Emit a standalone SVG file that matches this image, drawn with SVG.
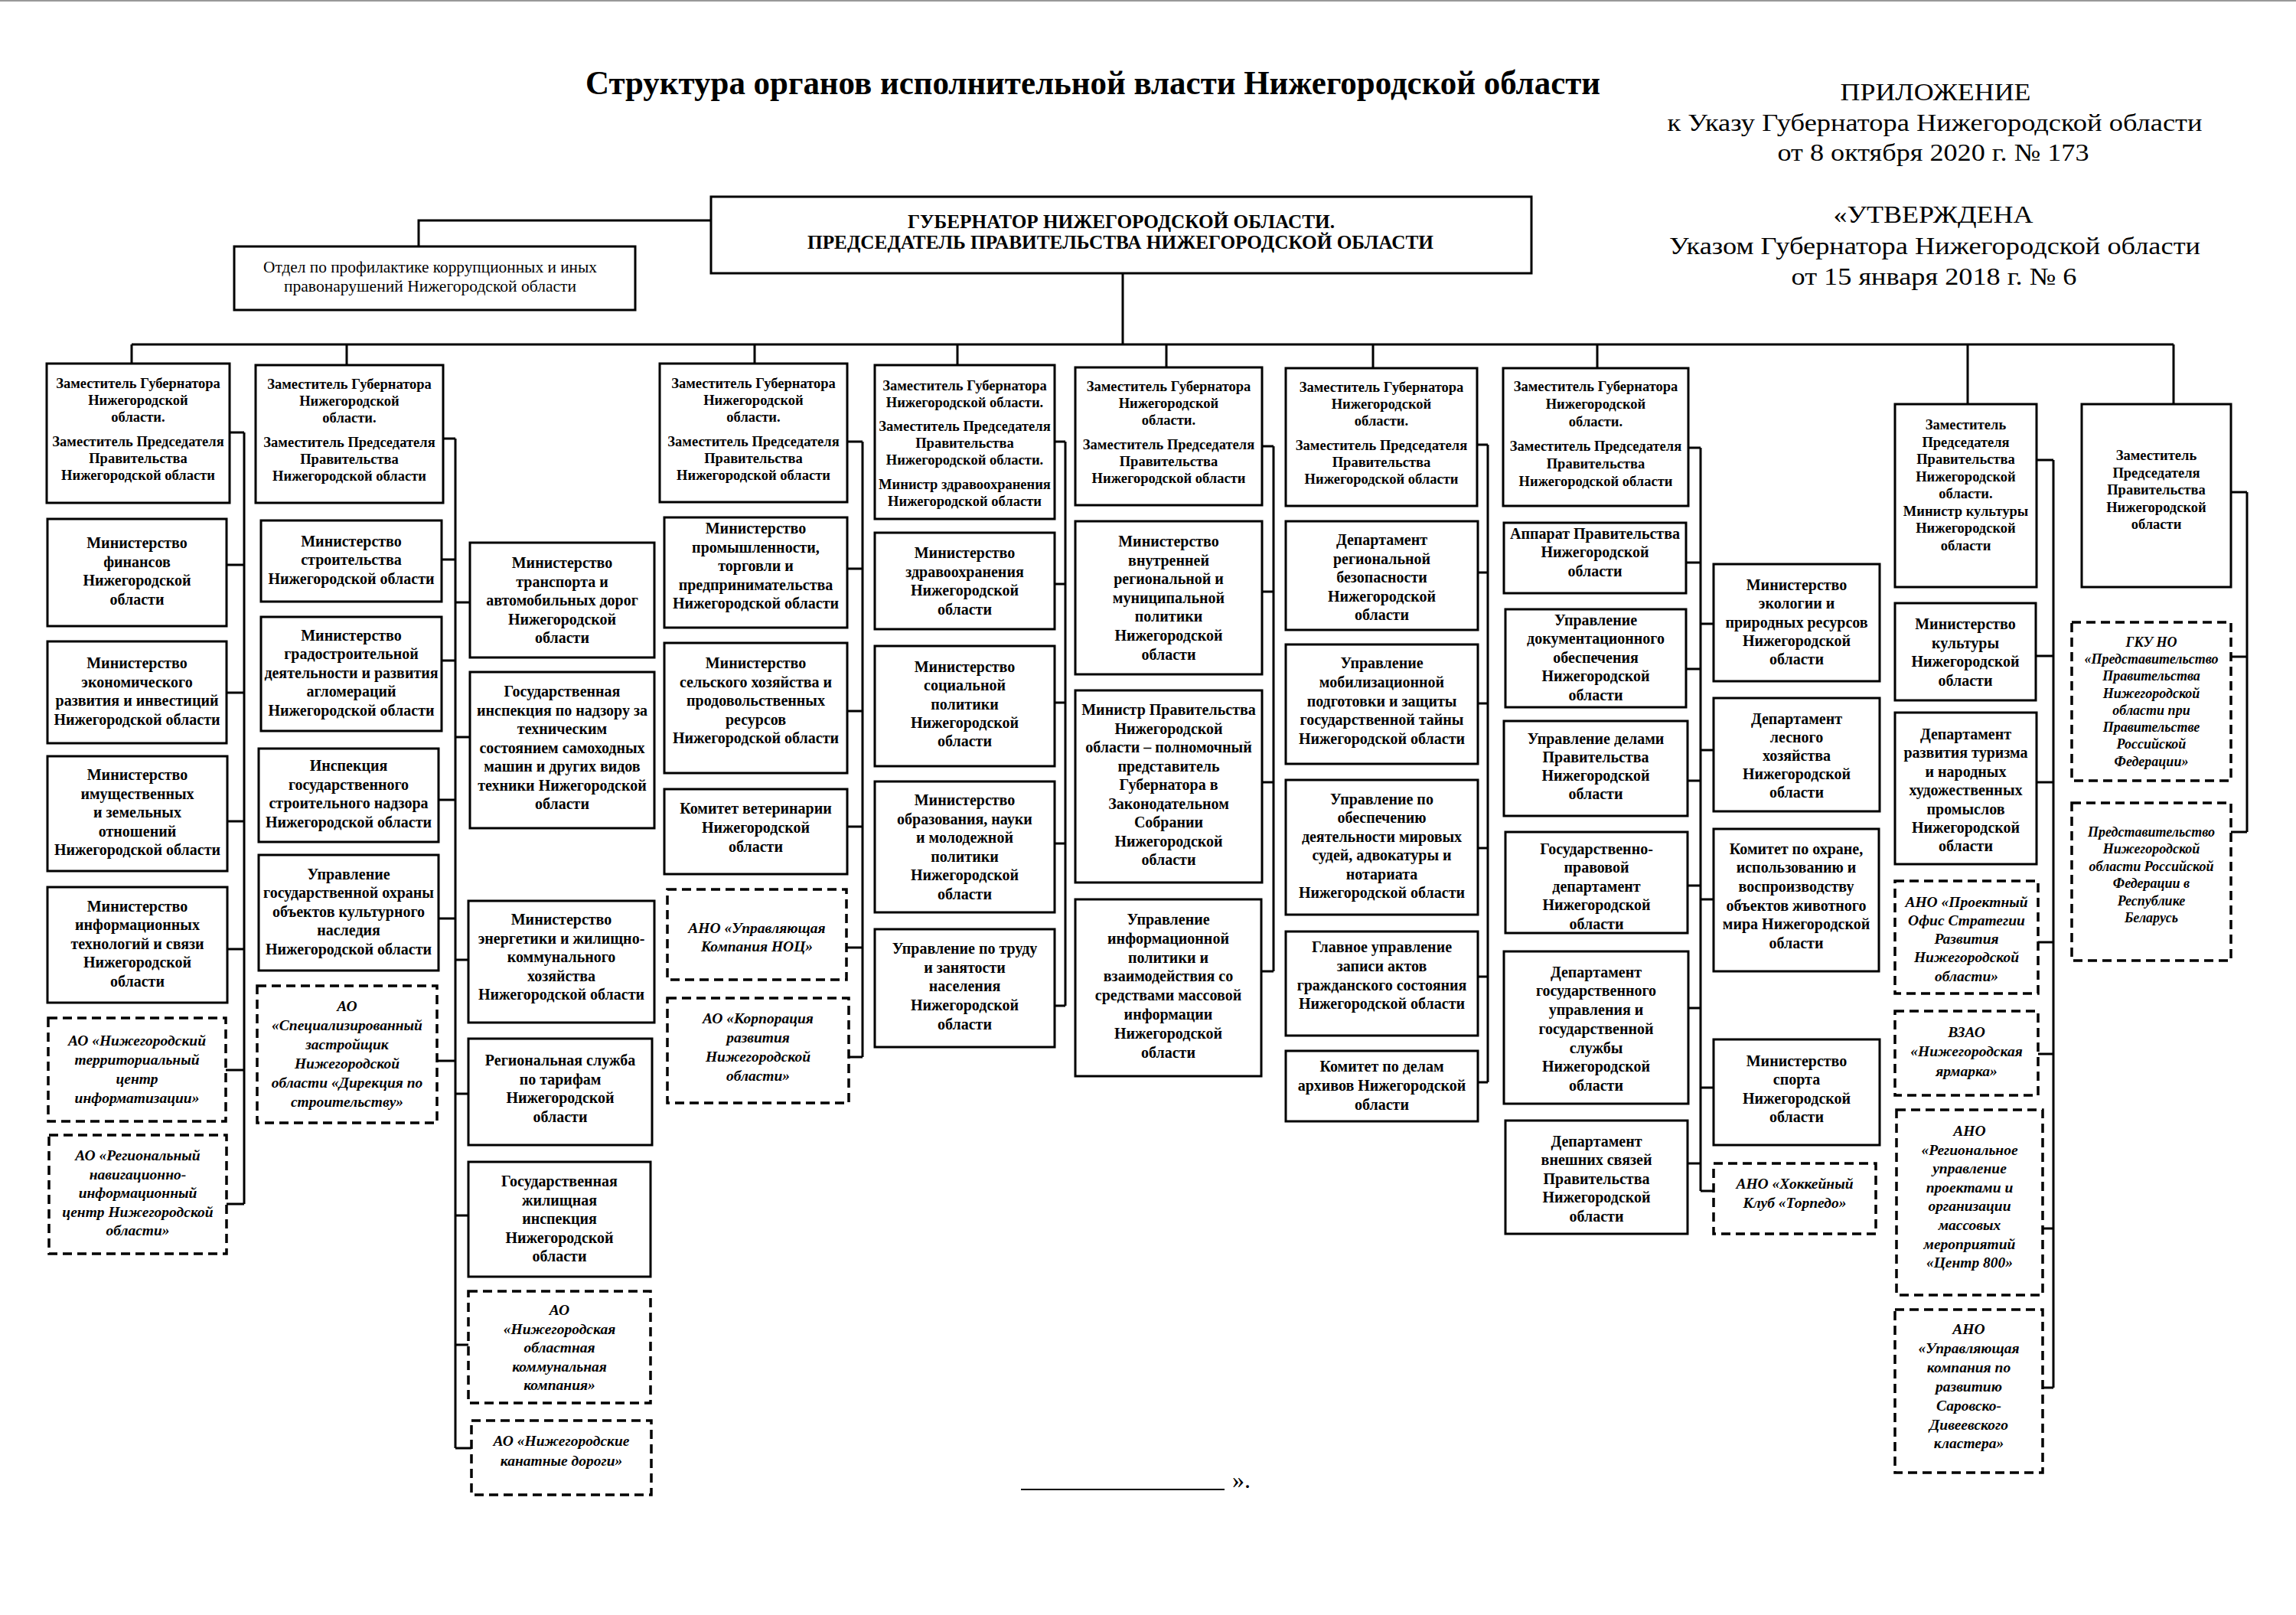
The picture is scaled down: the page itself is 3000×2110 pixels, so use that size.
<svg xmlns="http://www.w3.org/2000/svg" width="3000" height="2110" viewBox="0 0 3000 2110">
<style>
.b{fill:#fff;stroke:#000;stroke-width:3}
.d{fill:#fff;stroke:#000;stroke-width:3.5;stroke-dasharray:12 7}
.c path{fill:none;stroke:#000;stroke-width:3}
text{font-family:"Liberation Serif","Times New Roman",serif;fill:#000;text-anchor:middle}
.t{font-size:20px;font-weight:bold}
.dp{font-size:18.5px;font-weight:bold}
.i{font-size:19.5px;font-weight:bold;font-style:italic}
.i2{font-size:18px;font-weight:bold;font-style:italic}
.h{font-size:32px}
</style>
<rect width="3000" height="2110" fill="#fff"/>
<line x1="0" y1="1" x2="3000" y2="1" stroke="#999" stroke-width="2"/>

<text x="1428" y="123" font-size="44" font-weight="bold" textLength="1326" lengthAdjust="spacingAndGlyphs">Структура органов исполнительной власти Нижегородской области</text>
<text class="h" x="2529" y="131" textLength="249" lengthAdjust="spacingAndGlyphs">ПРИЛОЖЕНИЕ</text>
<text class="h" x="2528" y="171" textLength="699" lengthAdjust="spacingAndGlyphs">к Указу Губернатора Нижегородской области</text>
<text class="h" x="2526" y="210" textLength="407" lengthAdjust="spacingAndGlyphs">от 8 октября 2020 г. № 173</text>
<text class="h" x="2526" y="291" textLength="261" lengthAdjust="spacingAndGlyphs">«УТВЕРЖДЕНА</text>
<text class="h" x="2528" y="332" textLength="694" lengthAdjust="spacingAndGlyphs">Указом Губернатора Нижегородской области</text>
<text class="h" x="2527" y="372" textLength="373" lengthAdjust="spacingAndGlyphs">от 15 января 2018 г. № 6</text>

<g class="c" id="connectors">
<path d="M929,288 H547 V322 M1467,357 V450 M172,450 H2840 M172,450 V475 M453,450 V477 M986,450 V475 M1251,450 V477 M1524,450 V480 M1794,450 V481 M2087,450 V481 M2571,450 V528 M2840,450 V528"/>
<path d="M319,565 V1573 M300,565 H319 M296,738 H319 M296,905 H319 M297,1073 H319 M297,1240 H319 M295,1398 H319 M296,1573 H319"/>
<path d="M595,573 V1892 M579,573 H595 M577,731 H595 M577,863 H595 M573,1045 H595 M573,1200 H595 M571,1386 H595 M595,787 H614 M595,963 H614 M595,1254 H612 M595,1429 H612 M595,1588 H612 M595,1757 H612 M595,1892 H616"/>
<path d="M1127,577 V1381 M1107,577 H1127 M1107,743 H1127 M1107,929 H1127 M1107,1080 H1127 M1106,1238 H1127 M1109,1381 H1127"/>
<path d="M1392,577 V1314 M1378,577 H1392 M1378,763 H1392 M1378,918 H1392 M1378,1102 H1392 M1378,1314 H1392"/>
<path d="M1664,583 V1269 M1649,583 H1664 M1649,773 H1664 M1649,1022 H1664 M1648,1269 H1664"/>
<path d="M1944,581 V1414 M1930,581 H1944 M1931,748 H1944 M1931,919 H1944 M1931,1108 H1944 M1931,1276 H1944 M1931,1414 H1944"/>
<path d="M2222,585 V1556 M2206,585 H2222 M2203,735 H2222 M2203,874 H2222 M2205,1020 H2222 M2205,1157 H2222 M2206,1317 H2222 M2205,1520 H2222 M2222,815 H2239 M2222,980 H2239 M2222,1175 H2239 M2222,1421 H2239 M2222,1556 H2239"/>
<path d="M2683,601 V1813 M2661,601 H2683 M2660,857 H2683 M2661,1022 H2683 M2663,1231 H2683 M2663,1377 H2683 M2669,1605 H2683 M2669,1813 H2683"/>
<path d="M2936,643 V1087 M2915,643 H2936 M2915,858 H2936 M2915,1087 H2936"/>
</g>

<g id="governor"><rect class="b" x="929" y="257" width="1072" height="100"/>
<text x="1465" y="298" font-size="25" font-weight="bold" textLength="558" lengthAdjust="spacingAndGlyphs">ГУБЕРНАТОР НИЖЕГОРОДСКОЙ ОБЛАСТИ.</text>
<text x="1464" y="325" font-size="25" font-weight="bold" textLength="818" lengthAdjust="spacingAndGlyphs">ПРЕДСЕДАТЕЛЬ ПРАВИТЕЛЬСТВА НИЖЕГОРОДСКОЙ ОБЛАСТИ</text></g>
<g id="otdel"><rect class="b" x="306" y="322" width="524" height="83"/>
<text x="562" y="356" font-size="21" textLength="436" lengthAdjust="spacingAndGlyphs">Отдел по профилактике коррупционных и иных</text>
<text x="562" y="381" font-size="21" textLength="382" lengthAdjust="spacingAndGlyphs">правонарушений Нижегородской области</text></g>

<!-- Column 1 -->
<g id="dep1"><rect class="b" x="61" y="475" width="239" height="182"/><text class="dp" x="180.5" y="507"><tspan x="180.5">Заместитель Губернатора</tspan><tspan x="180.5" dy="22">Нижегородской</tspan><tspan x="180.5" dy="22">области.</tspan><tspan x="180.5" dy="32">Заместитель Председателя</tspan><tspan x="180.5" dy="22">Правительства</tspan><tspan x="180.5" dy="22">Нижегородской области</tspan></text></g>
<g id="minfin"><rect class="b" x="62" y="678" width="234" height="140"/><text class="t" x="179" y="716"><tspan x="179">Министерство</tspan><tspan x="179" dy="24.5">финансов</tspan><tspan x="179" dy="24.5">Нижегородской</tspan><tspan x="179" dy="24.5">области</tspan></text></g>
<g id="minecon"><rect class="b" x="62" y="838" width="234" height="133"/><text class="t" x="179" y="873"><tspan x="179">Министерство</tspan><tspan x="179" dy="24.5">экономического</tspan><tspan x="179" dy="24.5">развития и инвестиций</tspan><tspan x="179" dy="24.5">Нижегородской области</tspan></text></g>
<g id="minimush"><rect class="b" x="62" y="988" width="235" height="150"/><text class="t" x="179.5" y="1019"><tspan x="179.5">Министерство</tspan><tspan x="179.5" dy="24.5">имущественных</tspan><tspan x="179.5" dy="24.5">и земельных</tspan><tspan x="179.5" dy="24.5">отношений</tspan><tspan x="179.5" dy="24.5">Нижегородской области</tspan></text></g>
<g id="mininform"><rect class="b" x="62" y="1159" width="235" height="151"/><text class="t" x="179.5" y="1190.5"><tspan x="179.5">Министерство</tspan><tspan x="179.5" dy="24.5">информационных</tspan><tspan x="179.5" dy="24.5">технологий и связи</tspan><tspan x="179.5" dy="24.5">Нижегородской</tspan><tspan x="179.5" dy="24.5">области</tspan></text></g>
<g id="ao-ntci"><rect class="d" x="63" y="1330" width="232" height="135"/><text class="i" x="179" y="1366"><tspan x="179">АО «Нижегородский</tspan><tspan x="179" dy="25">территориальный</tspan><tspan x="179" dy="25">центр</tspan><tspan x="179" dy="25">информатизации»</tspan></text></g>
<g id="ao-rnic"><rect class="d" x="64" y="1483" width="232" height="155"/><text class="i" x="180" y="1516"><tspan x="180">АО «Региональный</tspan><tspan x="180" dy="24.5">навигационно-</tspan><tspan x="180" dy="24.5">информационный</tspan><tspan x="180" dy="24.5">центр Нижегородской</tspan><tspan x="180" dy="24.5">области»</tspan></text></g>

<!-- Column 2 -->
<g id="dep2"><rect class="b" x="334" y="477" width="245" height="180"/><text class="dp" x="456.5" y="508"><tspan x="456.5">Заместитель Губернатора</tspan><tspan x="456.5" dy="22">Нижегородской</tspan><tspan x="456.5" dy="22">области.</tspan><tspan x="456.5" dy="32">Заместитель Председателя</tspan><tspan x="456.5" dy="22">Правительства</tspan><tspan x="456.5" dy="22">Нижегородской области</tspan></text></g>
<g id="minstroy"><rect class="b" x="341" y="680" width="236" height="106"/><text class="t" x="459" y="713.5"><tspan x="459">Министерство</tspan><tspan x="459" dy="24.5">строительства</tspan><tspan x="459" dy="24.5">Нижегородской области</tspan></text></g>
<g id="mingrad"><rect class="b" x="341" y="806" width="236" height="149"/><text class="t" x="459" y="836.5"><tspan x="459">Министерство</tspan><tspan x="459" dy="24.5">градостроительной</tspan><tspan x="459" dy="24.5">деятельности и развития</tspan><tspan x="459" dy="24.5">агломераций</tspan><tspan x="459" dy="24.5">Нижегородской области</tspan></text></g>
<g id="insp-stroy"><rect class="b" x="338" y="978" width="235" height="122"/><text class="t" x="455.5" y="1007"><tspan x="455.5">Инспекция</tspan><tspan x="455.5" dy="24.5">государственного</tspan><tspan x="455.5" dy="24.5">строительного надзора</tspan><tspan x="455.5" dy="24.5">Нижегородской области</tspan></text></g>
<g id="upr-okn"><rect class="b" x="338" y="1117" width="235" height="151"/><text class="t" x="455.5" y="1148.5"><tspan x="455.5">Управление</tspan><tspan x="455.5" dy="24.5">государственной охраны</tspan><tspan x="455.5" dy="24.5">объектов культурного</tspan><tspan x="455.5" dy="24.5">наследия</tspan><tspan x="455.5" dy="24.5">Нижегородской области</tspan></text></g>
<g id="ao-spec"><rect class="d" x="336" y="1288" width="235" height="179"/><text class="i" x="453.5" y="1321"><tspan x="453.5">АО</tspan><tspan x="453.5" dy="25">«Специализированный</tspan><tspan x="453.5" dy="25">застройщик</tspan><tspan x="453.5" dy="25">Нижегородской</tspan><tspan x="453.5" dy="25">области «Дирекция по</tspan><tspan x="453.5" dy="25">строительству»</tspan></text></g>

<!-- Column 2b -->
<g id="mintrans"><rect class="b" x="614" y="709" width="241" height="150"/><text class="t" x="734.5" y="742"><tspan x="734.5">Министерство</tspan><tspan x="734.5" dy="24.5">транспорта и</tspan><tspan x="734.5" dy="24.5">автомобильных дорог</tspan><tspan x="734.5" dy="24.5">Нижегородской</tspan><tspan x="734.5" dy="24.5">области</tspan></text></g>
<g id="gostekhnadzor"><rect class="b" x="614" y="878" width="241" height="204"/><text class="t" x="734.5" y="910"><tspan x="734.5">Государственная</tspan><tspan x="734.5" dy="24.5">инспекция по надзору за</tspan><tspan x="734.5" dy="24.5">техническим</tspan><tspan x="734.5" dy="24.5">состоянием самоходных</tspan><tspan x="734.5" dy="24.5">машин и других видов</tspan><tspan x="734.5" dy="24.5">техники Нижегородской</tspan><tspan x="734.5" dy="24.5">области</tspan></text></g>
<g id="minenerg"><rect class="b" x="612" y="1177" width="243" height="159"/><text class="t" x="733.5" y="1208"><tspan x="733.5">Министерство</tspan><tspan x="733.5" dy="24.5">энергетики и жилищно-</tspan><tspan x="733.5" dy="24.5">коммунального</tspan><tspan x="733.5" dy="24.5">хозяйства</tspan><tspan x="733.5" dy="24.5">Нижегородской области</tspan></text></g>
<g id="rst"><rect class="b" x="612" y="1357" width="240" height="139"/><text class="t" x="732" y="1392"><tspan x="732">Региональная служба</tspan><tspan x="732" dy="24.5">по тарифам</tspan><tspan x="732" dy="24.5">Нижегородской</tspan><tspan x="732" dy="24.5">области</tspan></text></g>
<g id="gzhi"><rect class="b" x="612" y="1518" width="238" height="150"/><text class="t" x="731" y="1550"><tspan x="731">Государственная</tspan><tspan x="731" dy="24.5">жилищная</tspan><tspan x="731" dy="24.5">инспекция</tspan><tspan x="731" dy="24.5">Нижегородской</tspan><tspan x="731" dy="24.5">области</tspan></text></g>
<g id="ao-nokk"><rect class="d" x="612" y="1687" width="238" height="146"/><text class="i" x="731" y="1718"><tspan x="731">АО</tspan><tspan x="731" dy="24.5">«Нижегородская</tspan><tspan x="731" dy="24.5">областная</tspan><tspan x="731" dy="24.5">коммунальная</tspan><tspan x="731" dy="24.5">компания»</tspan></text></g>
<g id="ao-kanat"><rect class="d" x="616" y="1856" width="235" height="97"/><text class="i" x="733.5" y="1889"><tspan x="733.5">АО «Нижегородские</tspan><tspan x="733.5" dy="26">канатные дороги»</tspan></text></g>

<!-- Column 3 -->
<g id="dep3"><rect class="b" x="862" y="475" width="245" height="181"/><text class="dp" x="984.5" y="507"><tspan x="984.5">Заместитель Губернатора</tspan><tspan x="984.5" dy="22">Нижегородской</tspan><tspan x="984.5" dy="22">области.</tspan><tspan x="984.5" dy="32">Заместитель Председателя</tspan><tspan x="984.5" dy="22">Правительства</tspan><tspan x="984.5" dy="22">Нижегородской области</tspan></text></g>
<g id="minprom"><rect class="b" x="868" y="676" width="239" height="144"/><text class="t" x="987.5" y="697"><tspan x="987.5">Министерство</tspan><tspan x="987.5" dy="24.6">промышленности,</tspan><tspan x="987.5" dy="24.6">торговли и</tspan><tspan x="987.5" dy="24.6">предпринимательства</tspan><tspan x="987.5" dy="24.6">Нижегородской области</tspan></text></g>
<g id="minselhoz"><rect class="b" x="868" y="840" width="239" height="170"/><text class="t" x="987.5" y="873"><tspan x="987.5">Министерство</tspan><tspan x="987.5" dy="24.6">сельского хозяйства и</tspan><tspan x="987.5" dy="24.6">продовольственных</tspan><tspan x="987.5" dy="24.6">ресурсов</tspan><tspan x="987.5" dy="24.6">Нижегородской области</tspan></text></g>
<g id="komvet"><rect class="b" x="868" y="1031" width="239" height="111"/><text class="t" x="987.5" y="1063"><tspan x="987.5">Комитет ветеринарии</tspan><tspan x="987.5" dy="25">Нижегородской</tspan><tspan x="987.5" dy="25">области</tspan></text></g>
<g id="ano-noc"><rect class="d" x="872" y="1162" width="234" height="118"/><text class="i" x="989" y="1219"><tspan x="989">АНО «Управляющая</tspan><tspan x="989" dy="24">Компания НОЦ»</tspan></text></g>
<g id="ao-korp"><rect class="d" x="872" y="1304" width="237" height="137"/><text class="i" x="990.5" y="1337"><tspan x="990.5">АО «Корпорация</tspan><tspan x="990.5" dy="25">развития</tspan><tspan x="990.5" dy="25">Нижегородской</tspan><tspan x="990.5" dy="25">области»</tspan></text></g>

<!-- Column 4 -->
<g id="dep4"><rect class="b" x="1143" y="477" width="235" height="201"/><text class="dp" x="1260.5" y="510"><tspan x="1260.5">Заместитель Губернатора</tspan><tspan x="1260.5" dy="22">Нижегородской области.</tspan><tspan x="1260.5" dy="31">Заместитель Председателя</tspan><tspan x="1260.5" dy="22">Правительства</tspan><tspan x="1260.5" dy="22">Нижегородской области.</tspan><tspan x="1260.5" dy="32">Министр здравоохранения</tspan><tspan x="1260.5" dy="22">Нижегородской области</tspan></text></g>
<g id="minzdrav"><rect class="b" x="1143" y="696" width="235" height="126"/><text class="t" x="1260.5" y="729"><tspan x="1260.5">Министерство</tspan><tspan x="1260.5" dy="24.5">здравоохранения</tspan><tspan x="1260.5" dy="24.5">Нижегородской</tspan><tspan x="1260.5" dy="24.5">области</tspan></text></g>
<g id="minsoc"><rect class="b" x="1143" y="844" width="235" height="157"/><text class="t" x="1260.5" y="878"><tspan x="1260.5">Министерство</tspan><tspan x="1260.5" dy="24.3">социальной</tspan><tspan x="1260.5" dy="24.3">политики</tspan><tspan x="1260.5" dy="24.3">Нижегородской</tspan><tspan x="1260.5" dy="24.3">области</tspan></text></g>
<g id="minobr"><rect class="b" x="1143" y="1021" width="235" height="171"/><text class="t" x="1260.5" y="1052"><tspan x="1260.5">Министерство</tspan><tspan x="1260.5" dy="24.6">образования, науки</tspan><tspan x="1260.5" dy="24.6">и молодежной</tspan><tspan x="1260.5" dy="24.6">политики</tspan><tspan x="1260.5" dy="24.6">Нижегородской</tspan><tspan x="1260.5" dy="24.6">области</tspan></text></g>
<g id="uprtrud"><rect class="b" x="1143" y="1214" width="235" height="154"/><text class="t" x="1260.5" y="1246"><tspan x="1260.5">Управление по труду</tspan><tspan x="1260.5" dy="24.7">и занятости</tspan><tspan x="1260.5" dy="24.7">населения</tspan><tspan x="1260.5" dy="24.7">Нижегородской</tspan><tspan x="1260.5" dy="24.7">области</tspan></text></g>

<!-- Column 5 -->
<g id="dep5"><rect class="b" x="1405" y="480" width="244" height="180"/><text class="dp" x="1527" y="511"><tspan x="1527">Заместитель Губернатора</tspan><tspan x="1527" dy="22">Нижегородской</tspan><tspan x="1527" dy="22">области.</tspan><tspan x="1527" dy="32">Заместитель Председателя</tspan><tspan x="1527" dy="22">Правительства</tspan><tspan x="1527" dy="22">Нижегородской области</tspan></text></g>
<g id="minvnutr"><rect class="b" x="1405" y="681" width="244" height="200"/><text class="t" x="1527" y="714"><tspan x="1527">Министерство</tspan><tspan x="1527" dy="24.6">внутренней</tspan><tspan x="1527" dy="24.6">региональной и</tspan><tspan x="1527" dy="24.6">муниципальной</tspan><tspan x="1527" dy="24.6">политики</tspan><tspan x="1527" dy="24.6">Нижегородской</tspan><tspan x="1527" dy="24.6">области</tspan></text></g>
<g id="ministr-zs"><rect class="b" x="1405" y="902" width="244" height="251"/><text class="t" x="1527" y="934"><tspan x="1527">Министр Правительства</tspan><tspan x="1527" dy="24.5">Нижегородской</tspan><tspan x="1527" dy="24.5">области – полномочный</tspan><tspan x="1527" dy="24.5">представитель</tspan><tspan x="1527" dy="24.5">Губернатора в</tspan><tspan x="1527" dy="24.5">Законодательном</tspan><tspan x="1527" dy="24.5">Собрании</tspan><tspan x="1527" dy="24.5">Нижегородской</tspan><tspan x="1527" dy="24.5">области</tspan></text></g>
<g id="uprinf"><rect class="b" x="1405" y="1175" width="243" height="231"/><text class="t" x="1526.5" y="1208"><tspan x="1526.5">Управление</tspan><tspan x="1526.5" dy="24.8">информационной</tspan><tspan x="1526.5" dy="24.8">политики и</tspan><tspan x="1526.5" dy="24.8">взаимодействия со</tspan><tspan x="1526.5" dy="24.8">средствами массовой</tspan><tspan x="1526.5" dy="24.8">информации</tspan><tspan x="1526.5" dy="24.8">Нижегородской</tspan><tspan x="1526.5" dy="24.8">области</tspan></text></g>

<!-- Column 6 -->
<g id="dep6"><rect class="b" x="1680" y="481" width="250" height="180"/><text class="dp" x="1805" y="512"><tspan x="1805">Заместитель Губернатора</tspan><tspan x="1805" dy="22">Нижегородской</tspan><tspan x="1805" dy="22">области.</tspan><tspan x="1805" dy="32">Заместитель Председателя</tspan><tspan x="1805" dy="22">Правительства</tspan><tspan x="1805" dy="22">Нижегородской области</tspan></text></g>
<g id="depbez"><rect class="b" x="1680" y="681" width="251" height="142"/><text class="t" x="1805.5" y="712"><tspan x="1805.5">Департамент</tspan><tspan x="1805.5" dy="24.6">региональной</tspan><tspan x="1805.5" dy="24.6">безопасности</tspan><tspan x="1805.5" dy="24.6">Нижегородской</tspan><tspan x="1805.5" dy="24.6">области</tspan></text></g>
<g id="uprmob"><rect class="b" x="1680" y="842" width="251" height="156"/><text class="t" x="1805.5" y="873"><tspan x="1805.5">Управление</tspan><tspan x="1805.5" dy="24.8">мобилизационной</tspan><tspan x="1805.5" dy="24.8">подготовки и защиты</tspan><tspan x="1805.5" dy="24.8">государственной тайны</tspan><tspan x="1805.5" dy="24.8">Нижегородской области</tspan></text></g>
<g id="uprsud"><rect class="b" x="1680" y="1019" width="251" height="176"/><text class="t" x="1805.5" y="1051"><tspan x="1805.5">Управление по</tspan><tspan x="1805.5" dy="24.4">обеспечению</tspan><tspan x="1805.5" dy="24.4">деятельности мировых</tspan><tspan x="1805.5" dy="24.4">судей, адвокатуры и</tspan><tspan x="1805.5" dy="24.4">нотариата</tspan><tspan x="1805.5" dy="24.4">Нижегородской области</tspan></text></g>
<g id="zags"><rect class="b" x="1680" y="1217" width="251" height="136"/><text class="t" x="1805.5" y="1244"><tspan x="1805.5">Главное управление</tspan><tspan x="1805.5" dy="24.8">записи актов</tspan><tspan x="1805.5" dy="24.8">гражданского состояния</tspan><tspan x="1805.5" dy="24.8">Нижегородской области</tspan></text></g>
<g id="komarh"><rect class="b" x="1680" y="1373" width="251" height="92"/><text class="t" x="1805.5" y="1400"><tspan x="1805.5">Комитет по делам</tspan><tspan x="1805.5" dy="25">архивов Нижегородской</tspan><tspan x="1805.5" dy="25">области</tspan></text></g>

<!-- Column 7 -->
<g id="dep7"><rect class="b" x="1964" y="481" width="242" height="180"/><text class="dp" x="2085" y="511"><tspan x="2085">Заместитель Губернатора</tspan><tspan x="2085" dy="23">Нижегородской</tspan><tspan x="2085" dy="23">области.</tspan><tspan x="2085" dy="32">Заместитель Председателя</tspan><tspan x="2085" dy="23">Правительства</tspan><tspan x="2085" dy="23">Нижегородской области</tspan></text></g>
<g id="apparat"><rect class="b" x="1965" y="683" width="238" height="92"/><text class="t" x="2084" y="703.5"><tspan x="2084">Аппарат Правительства</tspan><tspan x="2084" dy="24.7">Нижегородской</tspan><tspan x="2084" dy="24.7">области</tspan></text></g>
<g id="uprdoc"><rect class="b" x="1967" y="796" width="236" height="128"/><text class="t" x="2085" y="816.7"><tspan x="2085">Управление</tspan><tspan x="2085" dy="24.5">документационного</tspan><tspan x="2085" dy="24.5">обеспечения</tspan><tspan x="2085" dy="24.5">Нижегородской</tspan><tspan x="2085" dy="24.5">области</tspan></text></g>
<g id="uprdel"><rect class="b" x="1965" y="942" width="240" height="124"/><text class="t" x="2085" y="972"><tspan x="2085">Управление делами</tspan><tspan x="2085" dy="24">Правительства</tspan><tspan x="2085" dy="24">Нижегородской</tspan><tspan x="2085" dy="24">области</tspan></text></g>
<g id="gpd"><rect class="b" x="1967" y="1087" width="238" height="132"/><text class="t" x="2086" y="1115.6"><tspan x="2086">Государственно-</tspan><tspan x="2086" dy="24.6">правовой</tspan><tspan x="2086" dy="24.6">департамент</tspan><tspan x="2086" dy="24.6">Нижегородской</tspan><tspan x="2086" dy="24.6">области</tspan></text></g>
<g id="depgos"><rect class="b" x="1965" y="1243" width="241" height="199"/><text class="t" x="2085.5" y="1276.7"><tspan x="2085.5">Департамент</tspan><tspan x="2085.5" dy="24.7">государственного</tspan><tspan x="2085.5" dy="24.7">управления и</tspan><tspan x="2085.5" dy="24.7">государственной</tspan><tspan x="2085.5" dy="24.7">службы</tspan><tspan x="2085.5" dy="24.7">Нижегородской</tspan><tspan x="2085.5" dy="24.7">области</tspan></text></g>
<g id="depvnesh"><rect class="b" x="1967" y="1464" width="238" height="148"/><text class="t" x="2086" y="1498"><tspan x="2086">Департамент</tspan><tspan x="2086" dy="24.4">внешних связей</tspan><tspan x="2086" dy="24.4">Правительства</tspan><tspan x="2086" dy="24.4">Нижегородской</tspan><tspan x="2086" dy="24.4">области</tspan></text></g>

<!-- Column 7b -->
<g id="mineco"><rect class="b" x="2239" y="737" width="217" height="153"/><text class="t" x="2347.5" y="771"><tspan x="2347.5">Министерство</tspan><tspan x="2347.5" dy="24.3">экологии и</tspan><tspan x="2347.5" dy="24.3">природных ресурсов</tspan><tspan x="2347.5" dy="24.3">Нижегородской</tspan><tspan x="2347.5" dy="24.3">области</tspan></text></g>
<g id="deples"><rect class="b" x="2239" y="912" width="217" height="148"/><text class="t" x="2347.5" y="946"><tspan x="2347.5">Департамент</tspan><tspan x="2347.5" dy="24">лесного</tspan><tspan x="2347.5" dy="24">хозяйства</tspan><tspan x="2347.5" dy="24">Нижегородской</tspan><tspan x="2347.5" dy="24">области</tspan></text></g>
<g id="komzhiv"><rect class="b" x="2239" y="1083" width="216" height="186"/><text class="t" x="2347" y="1115.6"><tspan x="2347">Комитет по охране,</tspan><tspan x="2347" dy="24.7">использованию и</tspan><tspan x="2347" dy="24.7">воспроизводству</tspan><tspan x="2347" dy="24.7">объектов животного</tspan><tspan x="2347" dy="24.7">мира Нижегородской</tspan><tspan x="2347" dy="24.7">области</tspan></text></g>
<g id="minsport"><rect class="b" x="2239" y="1358" width="217" height="138"/><text class="t" x="2347.5" y="1393"><tspan x="2347.5">Министерство</tspan><tspan x="2347.5" dy="24.3">спорта</tspan><tspan x="2347.5" dy="24.3">Нижегородской</tspan><tspan x="2347.5" dy="24.3">области</tspan></text></g>
<g id="ano-torpedo"><rect class="d" x="2239" y="1520" width="212" height="92"/><text class="i" x="2345" y="1552.5"><tspan x="2345">АНО «Хоккейный</tspan><tspan x="2345" dy="25.5">Клуб «Торпедо»</tspan></text></g>

<!-- Column 8 -->
<g id="dep8"><rect class="b" x="2476" y="528" width="185" height="239"/><text class="dp" x="2568.5" y="561"><tspan x="2568.5">Заместитель</tspan><tspan x="2568.5" dy="22.5">Председателя</tspan><tspan x="2568.5" dy="22.5">Правительства</tspan><tspan x="2568.5" dy="22.5">Нижегородской</tspan><tspan x="2568.5" dy="22.5">области.</tspan><tspan x="2568.5" dy="22.5">Министр культуры</tspan><tspan x="2568.5" dy="22.5">Нижегородской</tspan><tspan x="2568.5" dy="22.5">области</tspan></text></g>
<g id="minkult"><rect class="b" x="2476" y="788" width="184" height="127"/><text class="t" x="2568" y="822"><tspan x="2568">Министерство</tspan><tspan x="2568" dy="24.5">культуры</tspan><tspan x="2568" dy="24.5">Нижегородской</tspan><tspan x="2568" dy="24.5">области</tspan></text></g>
<g id="depturizm"><rect class="b" x="2476" y="931" width="185" height="198"/><text class="t" x="2568.5" y="966"><tspan x="2568.5">Департамент</tspan><tspan x="2568.5" dy="24.4">развития туризма</tspan><tspan x="2568.5" dy="24.4">и народных</tspan><tspan x="2568.5" dy="24.4">художественных</tspan><tspan x="2568.5" dy="24.4">промыслов</tspan><tspan x="2568.5" dy="24.4">Нижегородской</tspan><tspan x="2568.5" dy="24.4">области</tspan></text></g>
<g id="ano-proekt"><rect class="d" x="2476" y="1151" width="187" height="147"/><text class="i" x="2569.5" y="1184.5"><tspan x="2569.5">АНО «Проектный</tspan><tspan x="2569.5" dy="24.3">Офис Стратегии</tspan><tspan x="2569.5" dy="24.3">Развития</tspan><tspan x="2569.5" dy="24.3">Нижегородской</tspan><tspan x="2569.5" dy="24.3">области»</tspan></text></g>
<g id="vzao"><rect class="d" x="2476" y="1321" width="187" height="110"/><text class="i" x="2569.5" y="1354.5"><tspan x="2569.5">ВЗАО</tspan><tspan x="2569.5" dy="25.5">«Нижегородская</tspan><tspan x="2569.5" dy="25.5">ярмарка»</tspan></text></g>
<g id="ano-c800"><rect class="d" x="2478" y="1450" width="191" height="242"/><text class="i" x="2573.5" y="1484"><tspan x="2573.5">АНО</tspan><tspan x="2573.5" dy="24.6">«Региональное</tspan><tspan x="2573.5" dy="24.6">управление</tspan><tspan x="2573.5" dy="24.6">проектами и</tspan><tspan x="2573.5" dy="24.6">организации</tspan><tspan x="2573.5" dy="24.6">массовых</tspan><tspan x="2573.5" dy="24.6">мероприятий</tspan><tspan x="2573.5" dy="24.6">«Центр 800»</tspan></text></g>
<g id="ano-sarov"><rect class="d" x="2476" y="1711" width="193" height="213"/><text class="i" x="2572.5" y="1743"><tspan x="2572.5">АНО</tspan><tspan x="2572.5" dy="24.9">«Управляющая</tspan><tspan x="2572.5" dy="24.9">компания по</tspan><tspan x="2572.5" dy="24.9">развитию</tspan><tspan x="2572.5" dy="24.9">Саровско-</tspan><tspan x="2572.5" dy="24.9">Дивеевского</tspan><tspan x="2572.5" dy="24.9">кластера»</tspan></text></g>

<!-- Column 9 -->
<g id="dep9"><rect class="b" x="2720" y="528" width="195" height="239"/><text class="dp" x="2817.5" y="601"><tspan x="2817.5">Заместитель</tspan><tspan x="2817.5" dy="22.5">Председателя</tspan><tspan x="2817.5" dy="22.5">Правительства</tspan><tspan x="2817.5" dy="22.5">Нижегородской</tspan><tspan x="2817.5" dy="22.5">области</tspan></text></g>
<g id="gku-pred"><rect class="d" x="2707" y="813" width="208" height="207"/><text class="i2" x="2811" y="844.6"><tspan x="2811">ГКУ НО</tspan><tspan x="2811" dy="22.3">«Представительство</tspan><tspan x="2811" dy="22.3">Правительства</tspan><tspan x="2811" dy="22.3">Нижегородской</tspan><tspan x="2811" dy="22.3">области при</tspan><tspan x="2811" dy="22.3">Правительстве</tspan><tspan x="2811" dy="22.3">Российской</tspan><tspan x="2811" dy="22.3">Федерации»</tspan></text></g>
<g id="pred-by"><rect class="d" x="2707" y="1049" width="208" height="206"/><text class="i2" x="2811" y="1093"><tspan x="2811">Представительство</tspan><tspan x="2811" dy="22.4">Нижегородской</tspan><tspan x="2811" dy="22.4">области Российской</tspan><tspan x="2811" dy="22.4">Федерации в</tspan><tspan x="2811" dy="22.4">Республике</tspan><tspan x="2811" dy="22.4">Беларусь</tspan></text></g>

<line x1="1334" y1="1946" x2="1600" y2="1946" stroke="#000" stroke-width="2"/>
<text x="1622" y="1944" font-size="32">».</text>
</svg>
